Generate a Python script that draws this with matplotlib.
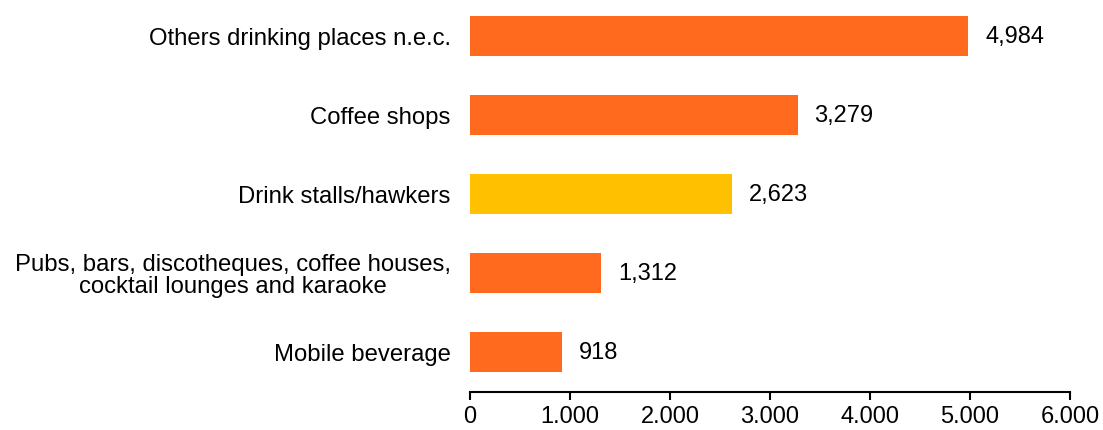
import matplotlib.pyplot as plt
from matplotlib.ticker import FuncFormatter

# Categories, top to bottom as shown.
categories = ['Others drinking places n.e.c.', 'Coffee shops', 'Drink stalls/hawkers',
              'Pubs, bars, discotheques, coffee houses,\ncocktail lounges and karaoke', 'Mobile beverage']
values = [4984, 3279, 2623, 1312, 918]
highlight = 'Drink stalls/hawkers'

plt.rcParams['font.family'] = ['Liberation Sans', 'DejaVu Sans']

figure = plt.figure(figsize=(11.03, 4.30), dpi=100)
axes = figure.add_axes([0.4261, 0.0884, 0.5440, 0.9116])

positions = list(range(len(categories)))[::-1]
colours = ['#FFC000' if c == highlight else '#FF6A1F' for c in categories]
axes.barh(positions, values, height=0.5, color=colours)

# Value labels at the end of each bar.
for p, v in zip(positions, values):
    axes.annotate(f'{v:,}', xy=(v, p), xytext=(12, -1), textcoords='offset points',
                  va='center', ha='left', fontsize=17)

axes.set_yticks(positions)
axes.set_yticklabels(categories, fontsize=17.2, linespacing=1.02, multialignment='center')
axes.tick_params(axis='y', length=0, pad=14)

axes.set_xlim(0, 6000)
axes.set_ylim(-0.506, 4.456)
axes.set_xticks(range(0, 6001, 1000))
axes.xaxis.set_major_formatter(FuncFormatter(lambda x, _: f'{int(x):,}'.replace(',', '.')))
axes.tick_params(axis='x', labelsize=17, length=6, width=1.5, pad=4)

axes.spines[['left', 'right', 'top']].set_visible(False)
axes.spines['bottom'].set_linewidth(1.5)

figure.savefig('out.png', dpi=100)
